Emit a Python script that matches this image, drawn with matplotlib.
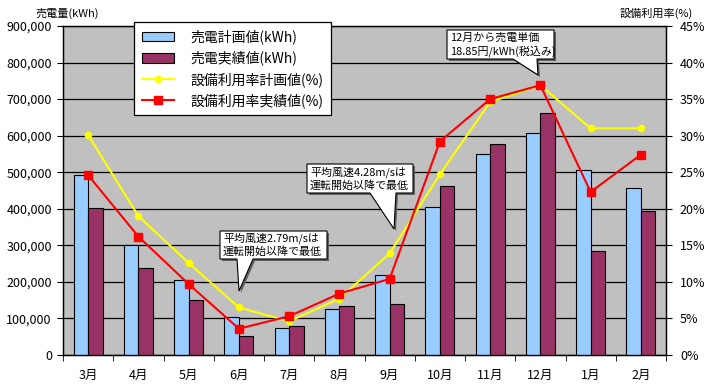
import matplotlib
matplotlib.use("Agg")
import matplotlib.pyplot as plt
from matplotlib.patches import Polygon
import numpy as np

plt.rcParams['font.family'] = ['Noto Sans CJK JP', 'DejaVu Sans']

months = ["3月", "4月", "5月", "6月", "7月", "8月", "9月", "10月", "11月", "12月", "1月", "2月"]
plan_kwh = [492000, 300000, 205000, 103000, 73000, 126000, 218000, 404000, 549000, 606000, 505000, 456000]
actual_kwh = [402000, 237000, 150000, 52000, 79000, 133000, 139000, 461000, 576000, 661000, 284000, 393000]
plan_rate = [30.1, 19.0, 12.6, 6.5, 4.6, 7.7, 13.9, 24.7, 34.6, 36.9, 31.0, 31.0]
actual_rate = [24.6, 16.2, 9.7, 3.6, 5.3, 8.4, 10.4, 29.2, 35.0, 36.9, 22.3, 27.4]
left_ticks = [0, 100000, 200000, 300000, 400000, 500000, 600000, 700000, 800000, 900000]
right_ticks = [0, 5, 10, 15, 20, 25, 30, 35, 40, 45]
callouts = [
    ("平均風速2.79m/sは\n運転開始以降で最低", (220, 231, 327, 259), (237, 253), (239, 291)),
    ("平均風速4.28m/sは\n運転開始以降で最低", (307, 164, 413, 193), (370, 396), (394, 229)),
    ("12月から売電単価\n18.85円/kWh(税込み)", (447, 30, 554, 59), (513, 537), (538, 75)),
]

W, H = 705, 389
fig = plt.figure(figsize=(W / 100, H / 100), dpi=100)
fig.patch.set_facecolor("white")
L, R, T, B = 63, 666, 26, 355
ax = fig.add_axes([L / W, (H - B) / H, (R - L) / W, (B - T) / H])
ax.set_facecolor("#C0C0C0")
ax2 = ax.twinx()

x = np.arange(len(months))
bw = 0.29
b1 = ax.bar(x - bw / 2, plan_kwh, bw, color="#99CCFF", edgecolor="black", linewidth=0.8, zorder=3,
            label="売電計画値(kWh)")
b2 = ax.bar(x + bw / 2, actual_kwh, bw, color="#993366", edgecolor="black", linewidth=0.8, zorder=3,
            label="売電実績値(kWh)")
ax.set_ylim(0, 900000)
ax.set_xlim(-0.5, len(months) - 0.5)
ax.set_yticks(left_ticks)
ax.set_yticklabels([f"{v:,}" for v in left_ticks], fontsize=9)
ax.yaxis.grid(True, color="black", linewidth=0.9, zorder=1)
ax.set_axisbelow(True)
ax.set_xticks(x)
ax.set_xticklabels(months, fontsize=9)
ax.set_xticks(np.arange(-0.5, len(months), 1.0), minor=True)
ax.tick_params(axis="x", which="major", length=0, pad=10)
ax.tick_params(axis="x", which="minor", length=4, direction="out", color="black")
ax.tick_params(axis="y", length=4, direction="out", pad=4)

l1, = ax2.plot(x, plan_rate, color="#FFFF00", linewidth=1.5, marker="o", markersize=4.5,
               label="設備利用率計画値(%)", zorder=4)
l2, = ax2.plot(x, actual_rate, color="#FF0000", linewidth=1.5, marker="s", markersize=5.5,
               label="設備利用率実績値(%)", zorder=5)
ax2.set_ylim(0, 45)
ax2.set_yticks(right_ticks)
ax2.set_yticklabels([f"{v}%" for v in right_ticks], fontsize=9)
ax2.tick_params(axis="y", length=4, direction="out", pad=6)
for a in (ax, ax2):
    for s in a.spines.values():
        s.set_color("black")
        s.set_linewidth(0.9)

fig.text(35 / W, 1 - 13 / H, "売電量(kWh)", fontsize=8, va="center", ha="left")
fig.text(693 / W, 1 - 13 / H, "設備利用率(%)", fontsize=8, va="center", ha="right")

leg = fig.legend(handles=[b1, b2, l1, l2], loc="upper left",
                 bbox_to_anchor=(134 / W, 1 - 22 / H), fontsize=10, frameon=True,
                 fancybox=False, edgecolor="black", framealpha=1, borderpad=0.55,
                 labelspacing=0.45, handlelength=2.3, handletextpad=1.2, borderaxespad=0)
leg.get_frame().set_linewidth(0.9)
leg.set_zorder(10)

def fp(px, py):
    return (px / W, 1 - py / H)

for text, (x0, y0, x1, y1), (tb0, tb1), (tx, ty) in callouts:
    pts = [(x0, y0), (x1, y0), (x1, y1), (tb1, y1), (tx, ty), (tb0, y1), (x0, y1)]
    shadow = Polygon([fp(px + 2, py + 2) for px, py in pts], closed=True, transform=fig.transFigure,
                     facecolor="#606060", edgecolor="none", zorder=11)
    box = Polygon([fp(px, py) for px, py in pts], closed=True, transform=fig.transFigure,
                  facecolor="white", edgecolor="black", linewidth=0.8, zorder=12)
    fig.add_artist(shadow)
    fig.add_artist(box)
    fig.text((x0 + 3) / W, 1 - ((y0 + y1) / 2) / H, text, fontsize=7.9, va="center", ha="left",
             linespacing=1.3, zorder=13)

fig.savefig("out.png", dpi=100)
